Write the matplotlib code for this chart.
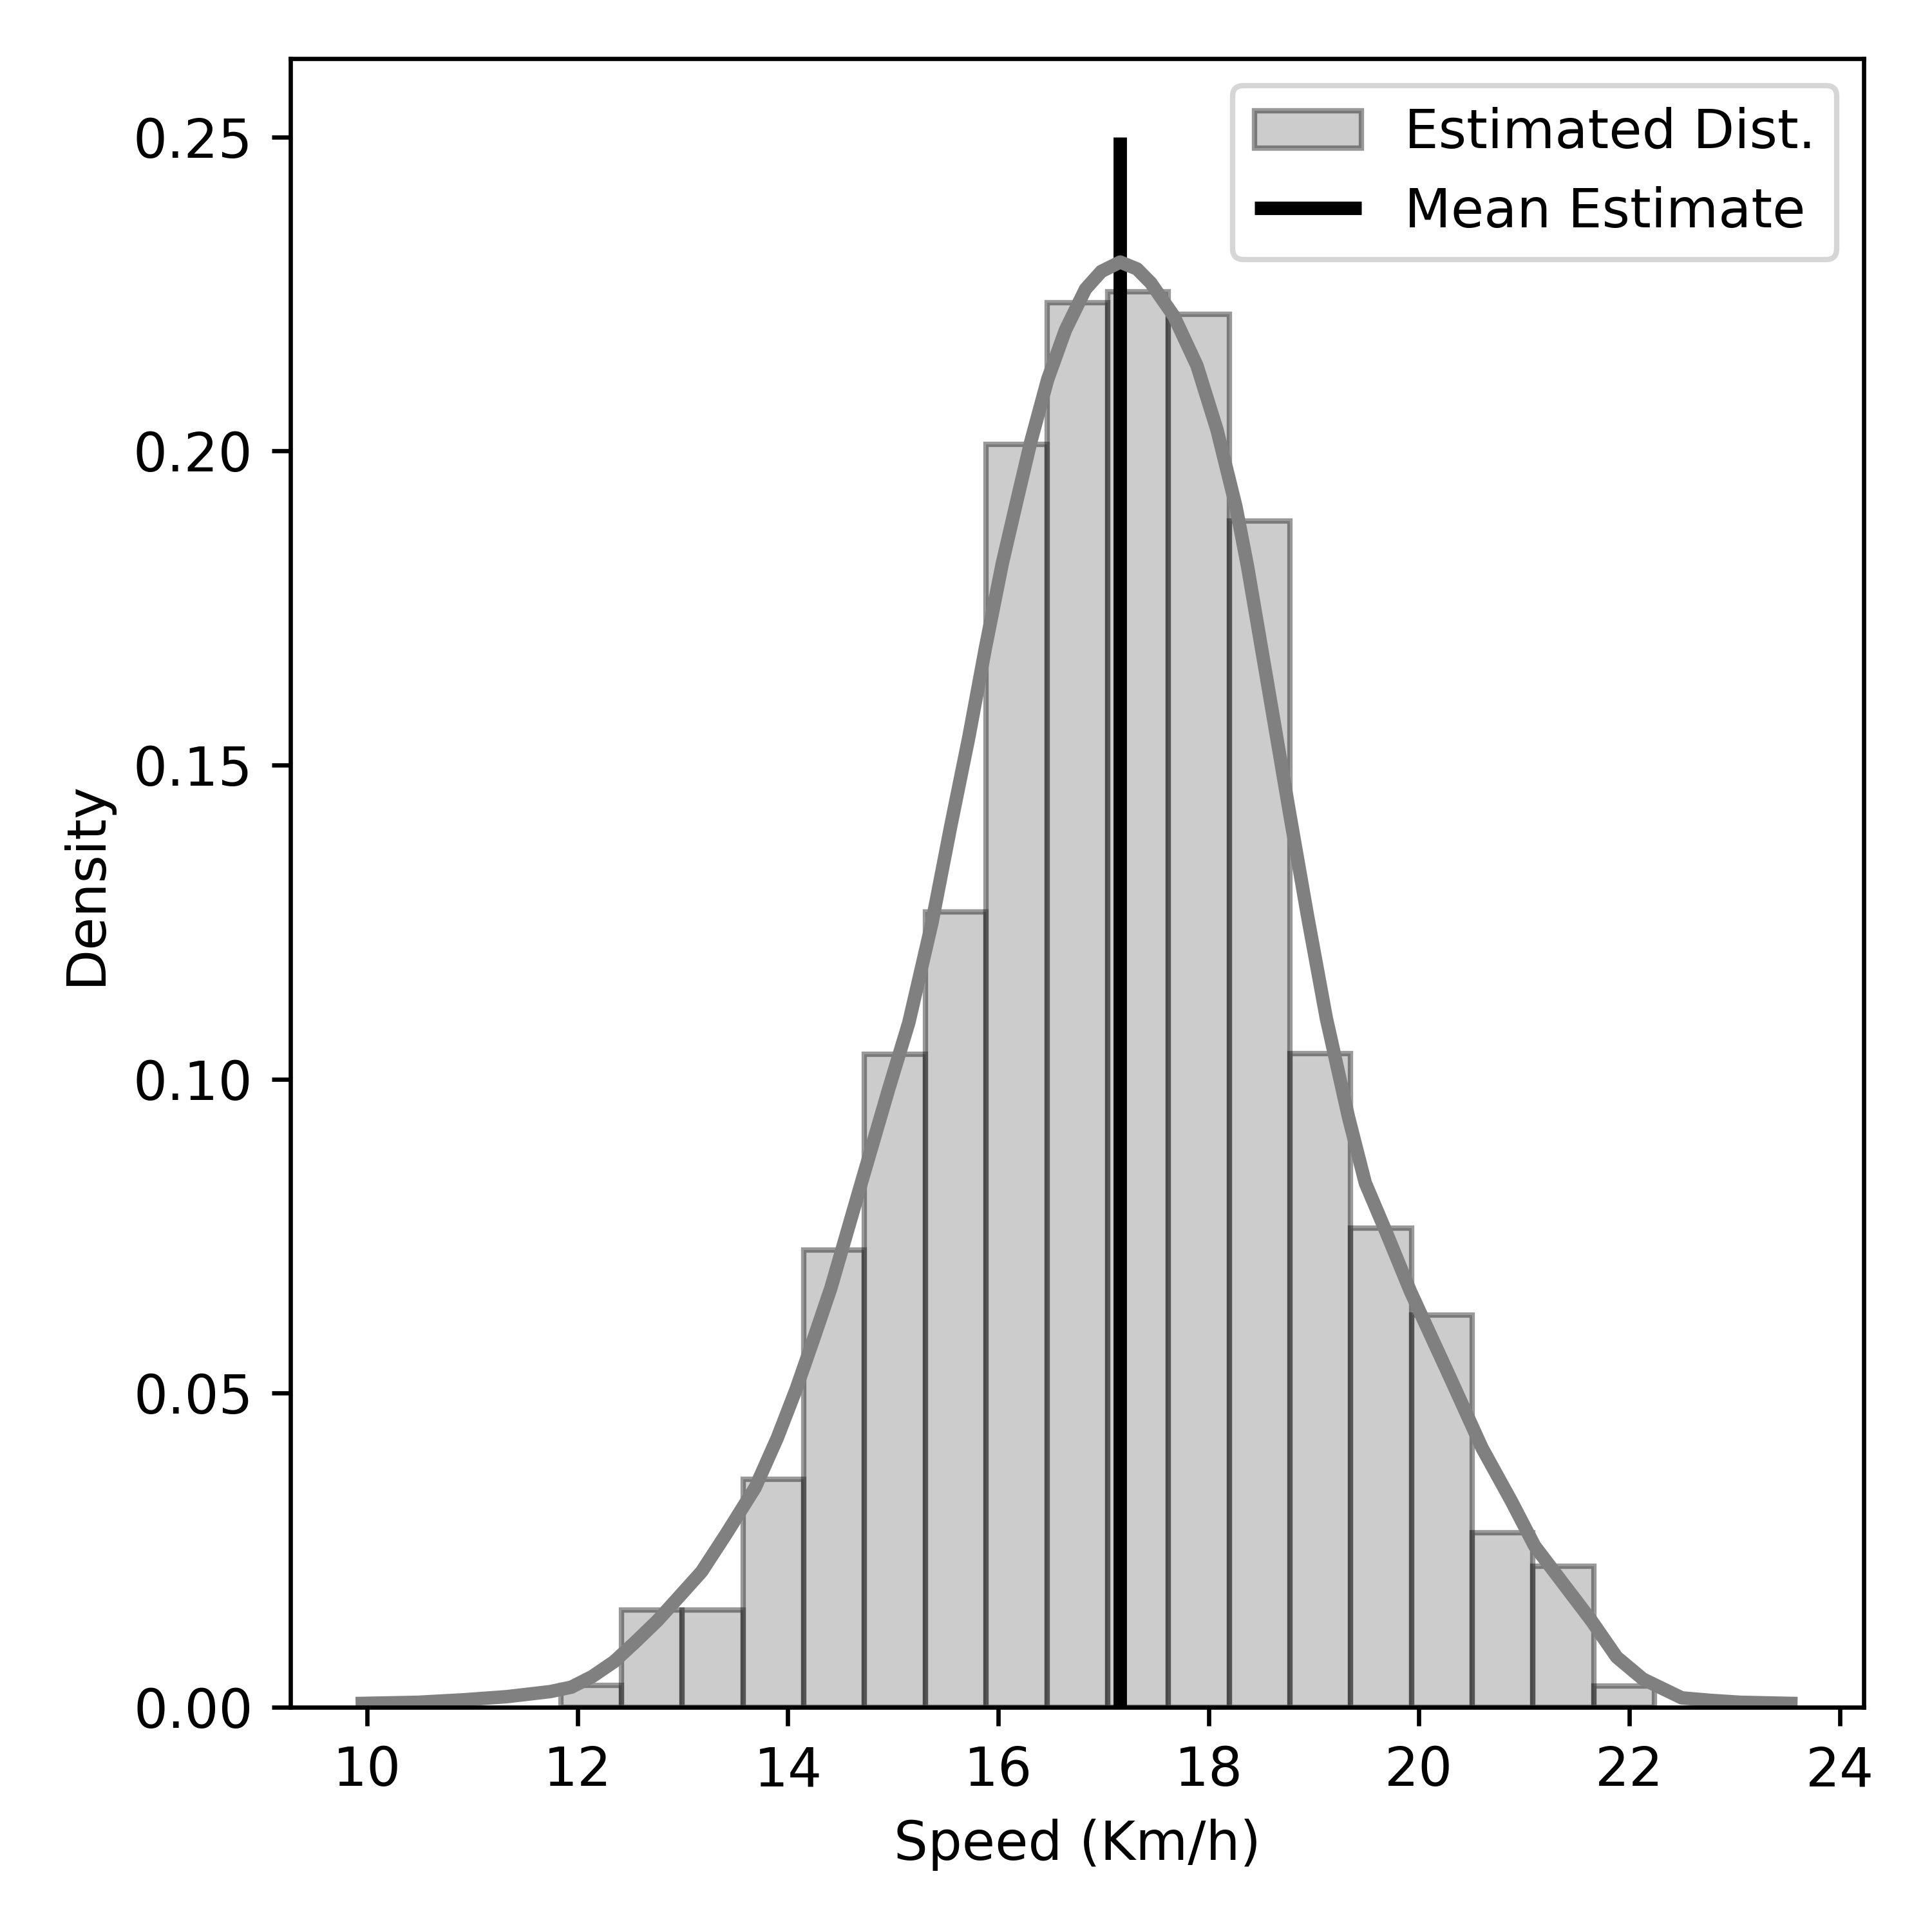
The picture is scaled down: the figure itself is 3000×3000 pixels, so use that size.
import matplotlib
matplotlib.use("Agg")
import matplotlib.pyplot as plt
import numpy as np

# Histogram bins (Km/h) and densities
bin_edges = np.linspace(11.84, 22.24, 19)
densities = [0.0035, 0.0155, 0.0155, 0.0363, 0.0728, 0.1040, 0.1266, 0.2011, 0.2236,
             0.2254, 0.2218, 0.1889, 0.1041, 0.0763, 0.0625, 0.0278, 0.0225, 0.0034]

# Density curve points
kde_x = [9.89, 10.48, 10.92, 11.33, 11.74, 11.94, 12.14, 12.35, 12.55, 12.76, 12.96,
         13.18, 13.41, 13.69, 13.90, 14.08, 14.25, 14.41, 14.69, 14.96, 15.15, 15.37,
         15.55, 15.72, 15.88, 16.04, 16.19, 16.31, 16.47, 16.64, 16.83, 16.98, 17.16,
         17.32, 17.45, 17.67, 17.89, 18.08, 18.26, 18.37, 18.57, 18.77, 18.94, 19.12,
         19.33, 19.49, 19.68, 19.92, 20.28, 20.60, 20.88, 21.10, 21.64, 21.88, 22.13,
         22.29, 22.50, 22.78, 23.06, 23.60]
kde_y = [0.0006, 0.0008, 0.0012, 0.0017, 0.0025, 0.0032, 0.0049, 0.0073, 0.0104, 0.0138,
         0.0175, 0.0216, 0.0275, 0.0350, 0.0429, 0.0507, 0.0589, 0.0668, 0.0830, 0.0985,
         0.1090, 0.1249, 0.1404, 0.1544, 0.1688, 0.1822, 0.1930, 0.2015, 0.2114, 0.2193,
         0.2258, 0.2286, 0.2301, 0.2290, 0.2268, 0.2215, 0.2136, 0.2034, 0.1912, 0.1817,
         0.1621, 0.1424, 0.1261, 0.1097, 0.0940, 0.0835, 0.0760, 0.0662, 0.0531, 0.0413,
         0.0328, 0.0257, 0.0138, 0.0080, 0.0045, 0.0032, 0.0015, 0.0011, 0.0008, 0.0006]

mean_speed = 17.16
mean_top = 0.25

fig, ax = plt.subplots(figsize=(5, 5), dpi=600)
fig.subplots_adjust(left=0.1503, right=0.9647, top=0.9697, bottom=0.1163)

bars = ax.bar(bin_edges[:-1], densities, width=np.diff(bin_edges), align="edge",
              color="gray", alpha=0.4, edgecolor="black", linewidth=1.0,
              label="Estimated Dist.")
mean_line, = ax.plot([mean_speed, mean_speed], [0, mean_top], color="black",
                     linewidth=2.5, solid_capstyle="butt", label="Mean Estimate")
ax.plot(kde_x, kde_y, color="gray", linewidth=2.5, solid_joinstyle="round",
        solid_capstyle="butt")

ax.set_xlim(9.27, 24.23)
ax.set_ylim(0, 0.2625)
ax.set_xticks(np.arange(10, 25, 2))
ax.set_yticks([0.0, 0.05, 0.10, 0.15, 0.20, 0.25])
ax.yaxis.set_major_formatter(matplotlib.ticker.FormatStrFormatter("%.2f"))
ax.set_xlabel("Speed (Km/h)")
ax.set_ylabel("Density")
ax.legend(handles=[bars, mean_line], loc="upper right")

fig.savefig("out.png")
